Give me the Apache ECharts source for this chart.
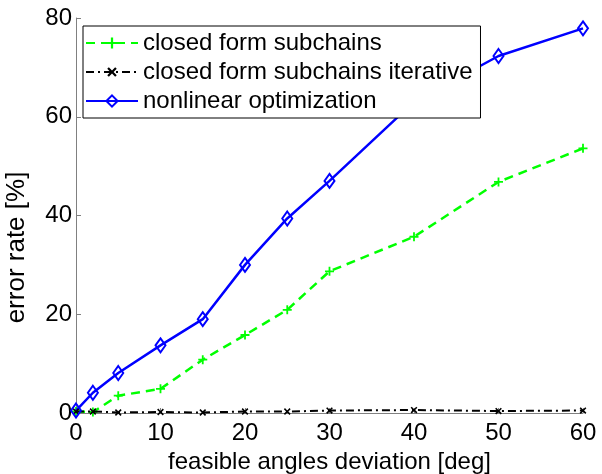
<!DOCTYPE html>
<html>
<head>
<meta charset="utf-8">
<script src="https://cdn.jsdelivr.net/npm/echarts@6/dist/echarts.min.js"></script>
<style>
  html, body { margin: 0; padding: 0; background: #fff; }
  #chart { width: 602px; height: 474px; }
</style>
</head>
<body>
<div id="chart"></div>
<script>
// deviation of feasible angles [deg]
var angles = [0, 2, 5, 10, 15, 20, 25, 30, 40, 50, 60]
var closedForm = [0.3, 0.2, 3.5, 4.9, 10.8, 15.8, 20.9, 28.7, 35.7, 46.8, 53.6]
var closedFormIter = [0.3, 0.3, 0.1, 0.2, 0.1, 0.3, 0.3, 0.5, 0.6, 0.4, 0.5]
var nonlinear = [0.5, 4.1, 8.1, 13.7, 19.0, 30.0, 39.4, 47.0, 63.0, 72.3, 77.9]
var xTicks = [0, 10, 20, 30, 40, 50, 60]
var yTicks = [0, 20, 40, 60, 80]

var plusPath = 'path://M4,0h2v4h4v2h-4v4h-2v-4h-4v-2h4z'

function pairs(ys) {
    return angles.map(function (x, i) { return [x, ys[i]] })
}

var font = 'Liberation Sans, Arial, sans-serif'
var myChart = echarts.init(document.getElementById('chart'), null, {renderer: 'canvas'})

myChart.setOption({
    animation: false,
    grid: {left: 76, right: 19, top: 18, bottom: 61, containLabel: false, outerBoundsMode: 'none'},
    legend: {
        orient: 'vertical',
        left: 83,
        top: 26,
        z: 10,
        padding: [5, 8, 5, 2],
        itemGap: 5,
        itemWidth: 52,
        itemHeight: 14,
        borderColor: '#000',
        borderWidth: 1,
        borderRadius: 0,
        backgroundColor: '#fff',
        textStyle: {fontFamily: font, fontSize: 24, color: '#000'},
        data: ['closed form subchains', 'closed form subchains iterative', 'nonlinear optimization']
    },
    xAxis: {
        type: 'value',
        min: 0,
        max: 60,
        interval: 10,
        name: 'feasible angles deviation [deg]',
        nameLocation: 'middle',
        nameGap: 28,
        nameTextStyle: {fontFamily: font, fontSize: 24, color: '#000'},
        axisLine: {show: true, lineStyle: {color: '#808080', width: 1}},
        axisTick: {show: true, inside: true, length: 5, lineStyle: {color: '#808080'}},
        axisLabel: {fontFamily: font, fontSize: 24, color: '#000', margin: 8,
            formatter: function (v) { return xTicks.indexOf(v) >= 0 ? String(v) : '' }},
        splitLine: {show: false}
    },
    yAxis: {
        type: 'value',
        min: 0,
        max: 80,
        interval: 20,
        name: 'error rate [%]',
        nameLocation: 'middle',
        nameGap: 46,
        nameTextStyle: {fontFamily: font, fontSize: 26, color: '#000', padding: [0, 64, 0, 0]},
        axisLine: {show: true, lineStyle: {color: '#808080', width: 1}},
        axisTick: {show: true, inside: true, length: 5, lineStyle: {color: '#808080'}},
        axisLabel: {fontFamily: font, fontSize: 24, color: '#000', margin: 4,
            formatter: function (v) { return yTicks.indexOf(v) >= 0 ? String(v) : '' }},
        splitLine: {show: false}
    },
    series: [
        {
            name: 'closed form subchains',
            type: 'line',
            data: pairs(closedForm),
            symbol: plusPath,
            symbolSize: 9,
            showAllSymbol: true,
            lineStyle: {color: '#00ff00', width: 2.5, type: [9, 6]},
            itemStyle: {color: '#00ff00', borderWidth: 0},
            z: 2
        },
        {
            name: 'closed form subchains iterative',
            type: 'line',
            data: pairs(closedFormIter),
            symbol: plusPath,
            symbolRotate: 45,
            symbolSize: 8,
            showAllSymbol: true,
            lineStyle: {color: '#000', width: 2, type: [8, 4, 2, 4]},
            itemStyle: {color: '#000', borderWidth: 0},
            z: 3
        },
        {
            name: 'nonlinear optimization',
            type: 'line',
            data: pairs(nonlinear),
            symbol: 'diamond',
            symbolSize: [10, 14],
            showAllSymbol: true,
            lineStyle: {color: '#0000ff', width: 2.5},
            itemStyle: {color: 'rgba(255,255,255,0)', borderColor: '#0000ff', borderWidth: 2},
            z: 3
        }
    ]
})
</script>
</body>
</html>
